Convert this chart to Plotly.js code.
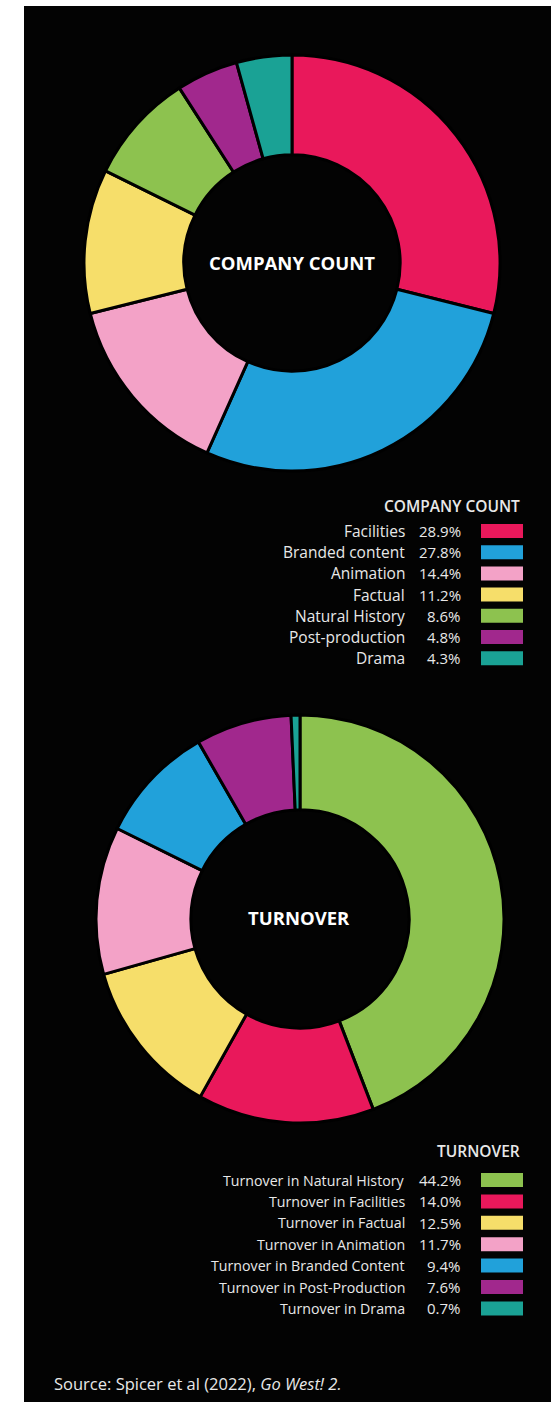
<!DOCTYPE html>
<html>
<head>
<meta charset="utf-8">
<script src="https://cdn.plot.ly/plotly-3.0.1.min.js"></script>
<style>
  html, body { margin: 0; padding: 0; background: #ffffff; }
  #chart { width: 551px; height: 1402px; }
</style>
</head>
<body>
<div id="chart"></div>
<script>
// ---- Data ----
var companyLabels = ['Facilities', 'Branded content', 'Animation', 'Factual', 'Natural History', 'Post-production', 'Drama'];
var companyValues = [28.9, 27.8, 14.4, 11.2, 8.6, 4.8, 4.3];
var companyColors = ['#E9185B', '#21A1DA', '#F3A2C7', '#F6DE6A', '#8DC24F', '#A1288D', '#1AA295'];

var turnoverLabels = ['Turnover in Natural History', 'Turnover in Facilities', 'Turnover in Factual', 'Turnover in Animation', 'Turnover in Branded Content', 'Turnover in Post-Production', 'Turnover in Drama'];
var turnoverValues = [44.2, 14.0, 12.5, 11.7, 9.4, 7.6, 0.7];
var turnoverColors = ['#8DC24F', '#E9185B', '#F6DE6A', '#F3A2C7', '#21A1DA', '#A1288D', '#1AA295'];

var centerTitles = ['COMPANY COUNT', 'TURNOVER'];
var legendTitles = ['COMPANY COUNT', 'TURNOVER'];
var sourceText = 'Source: Spicer et al (2022), <i>Go West! 2.</i>';

// ---- Layout helpers (pixel -> paper) ----
var W = 551, H = 1402;
function px(x) { return x / W; }
function py(y) { return 1 - y / H; }

var FONT = 'Open Sans, Noto Sans, sans-serif';
var TXT = '#e8e8e8';

function donut(labels, values, colors, cx, cy, r, hole) {
  return {
    type: 'pie',
    labels: labels,
    values: values,
    sort: false,
    direction: 'clockwise',
    rotation: 0,
    hole: hole,
    textinfo: 'none',
    hoverinfo: 'label+percent',
    showlegend: false,
    marker: { colors: colors, line: { color: '#000000', width: 3 } },
    domain: { x: [px(cx - r), px(cx + r)], y: [py(cy + r), py(cy - r)] }
  };
}

var traces = [
  donut(companyLabels, companyValues, companyColors, 292, 263, 208, 0.52),
  donut(turnoverLabels, turnoverValues, turnoverColors, 300, 919, 204, 0.535)
];

var annotations = [];
var shapes = [];

// black panel
shapes.push({ type: 'rect', xref: 'paper', yref: 'paper', layer: 'below',
  x0: px(24), x1: 1, y0: 0, y1: py(6), fillcolor: '#030303', line: { width: 0 } });

// centre titles
[[292, 262], [299, 918]].forEach(function (c, i) {
  annotations.push({ xref: 'paper', yref: 'paper', x: px(c[0]), y: py(c[1]),
    xanchor: 'center', yanchor: 'middle', showarrow: false,
    text: '<b>' + centerTitles[i] + '</b>',
    font: { family: FONT, size: 18.5, color: '#ffffff' } });
});

// legends
function legend(title, labels, values, colors, titleY, firstY, step, labelSize) {
  annotations.push({ xref: 'paper', yref: 'paper', x: px(522), y: py(titleY),
    xanchor: 'right', yanchor: 'middle', showarrow: false,
    text: title,
    font: { family: FONT, size: 15.5, color: TXT, weight: 600 } });
  labels.forEach(function (lab, i) {
    var y = firstY + i * step;
    annotations.push({ xref: 'paper', yref: 'paper', x: px(407), y: py(y),
      xanchor: 'right', yanchor: 'middle', showarrow: false, text: lab,
      font: { family: FONT, size: labelSize, color: TXT } });
    annotations.push({ xref: 'paper', yref: 'paper', x: px(463), y: py(y),
      xanchor: 'right', yanchor: 'middle', showarrow: false,
      text: values[i].toFixed(1) + '%',
      font: { family: FONT, size: 15, color: TXT } });
    shapes.push({ type: 'rect', xref: 'paper', yref: 'paper',
      x0: px(481), x1: px(523), y0: py(y + 7), y1: py(y - 7),
      fillcolor: colors[i], line: { width: 0 } });
  });
}
legend(legendTitles[0], companyLabels, companyValues, companyColors, 506, 531, 21.2, 15.5);
legend(legendTitles[1], turnoverLabels, turnoverValues, turnoverColors, 1151, 1180, 21.4, 14.2);

// source
annotations.push({ xref: 'paper', yref: 'paper', x: px(52), y: py(1383),
  xanchor: 'left', yanchor: 'middle', showarrow: false, text: sourceText,
  font: { family: FONT, size: 16.5, color: TXT } });

var layout = {
  width: W, height: H,
  margin: { l: 0, r: 0, t: 0, b: 0 },
  paper_bgcolor: '#ffffff',
  plot_bgcolor: '#ffffff',
  shapes: shapes,
  annotations: annotations,
  font: { family: FONT }
};

Plotly.newPlot('chart', traces, layout, { displayModeBar: false, staticPlot: true });
</script>
</body>
</html>
